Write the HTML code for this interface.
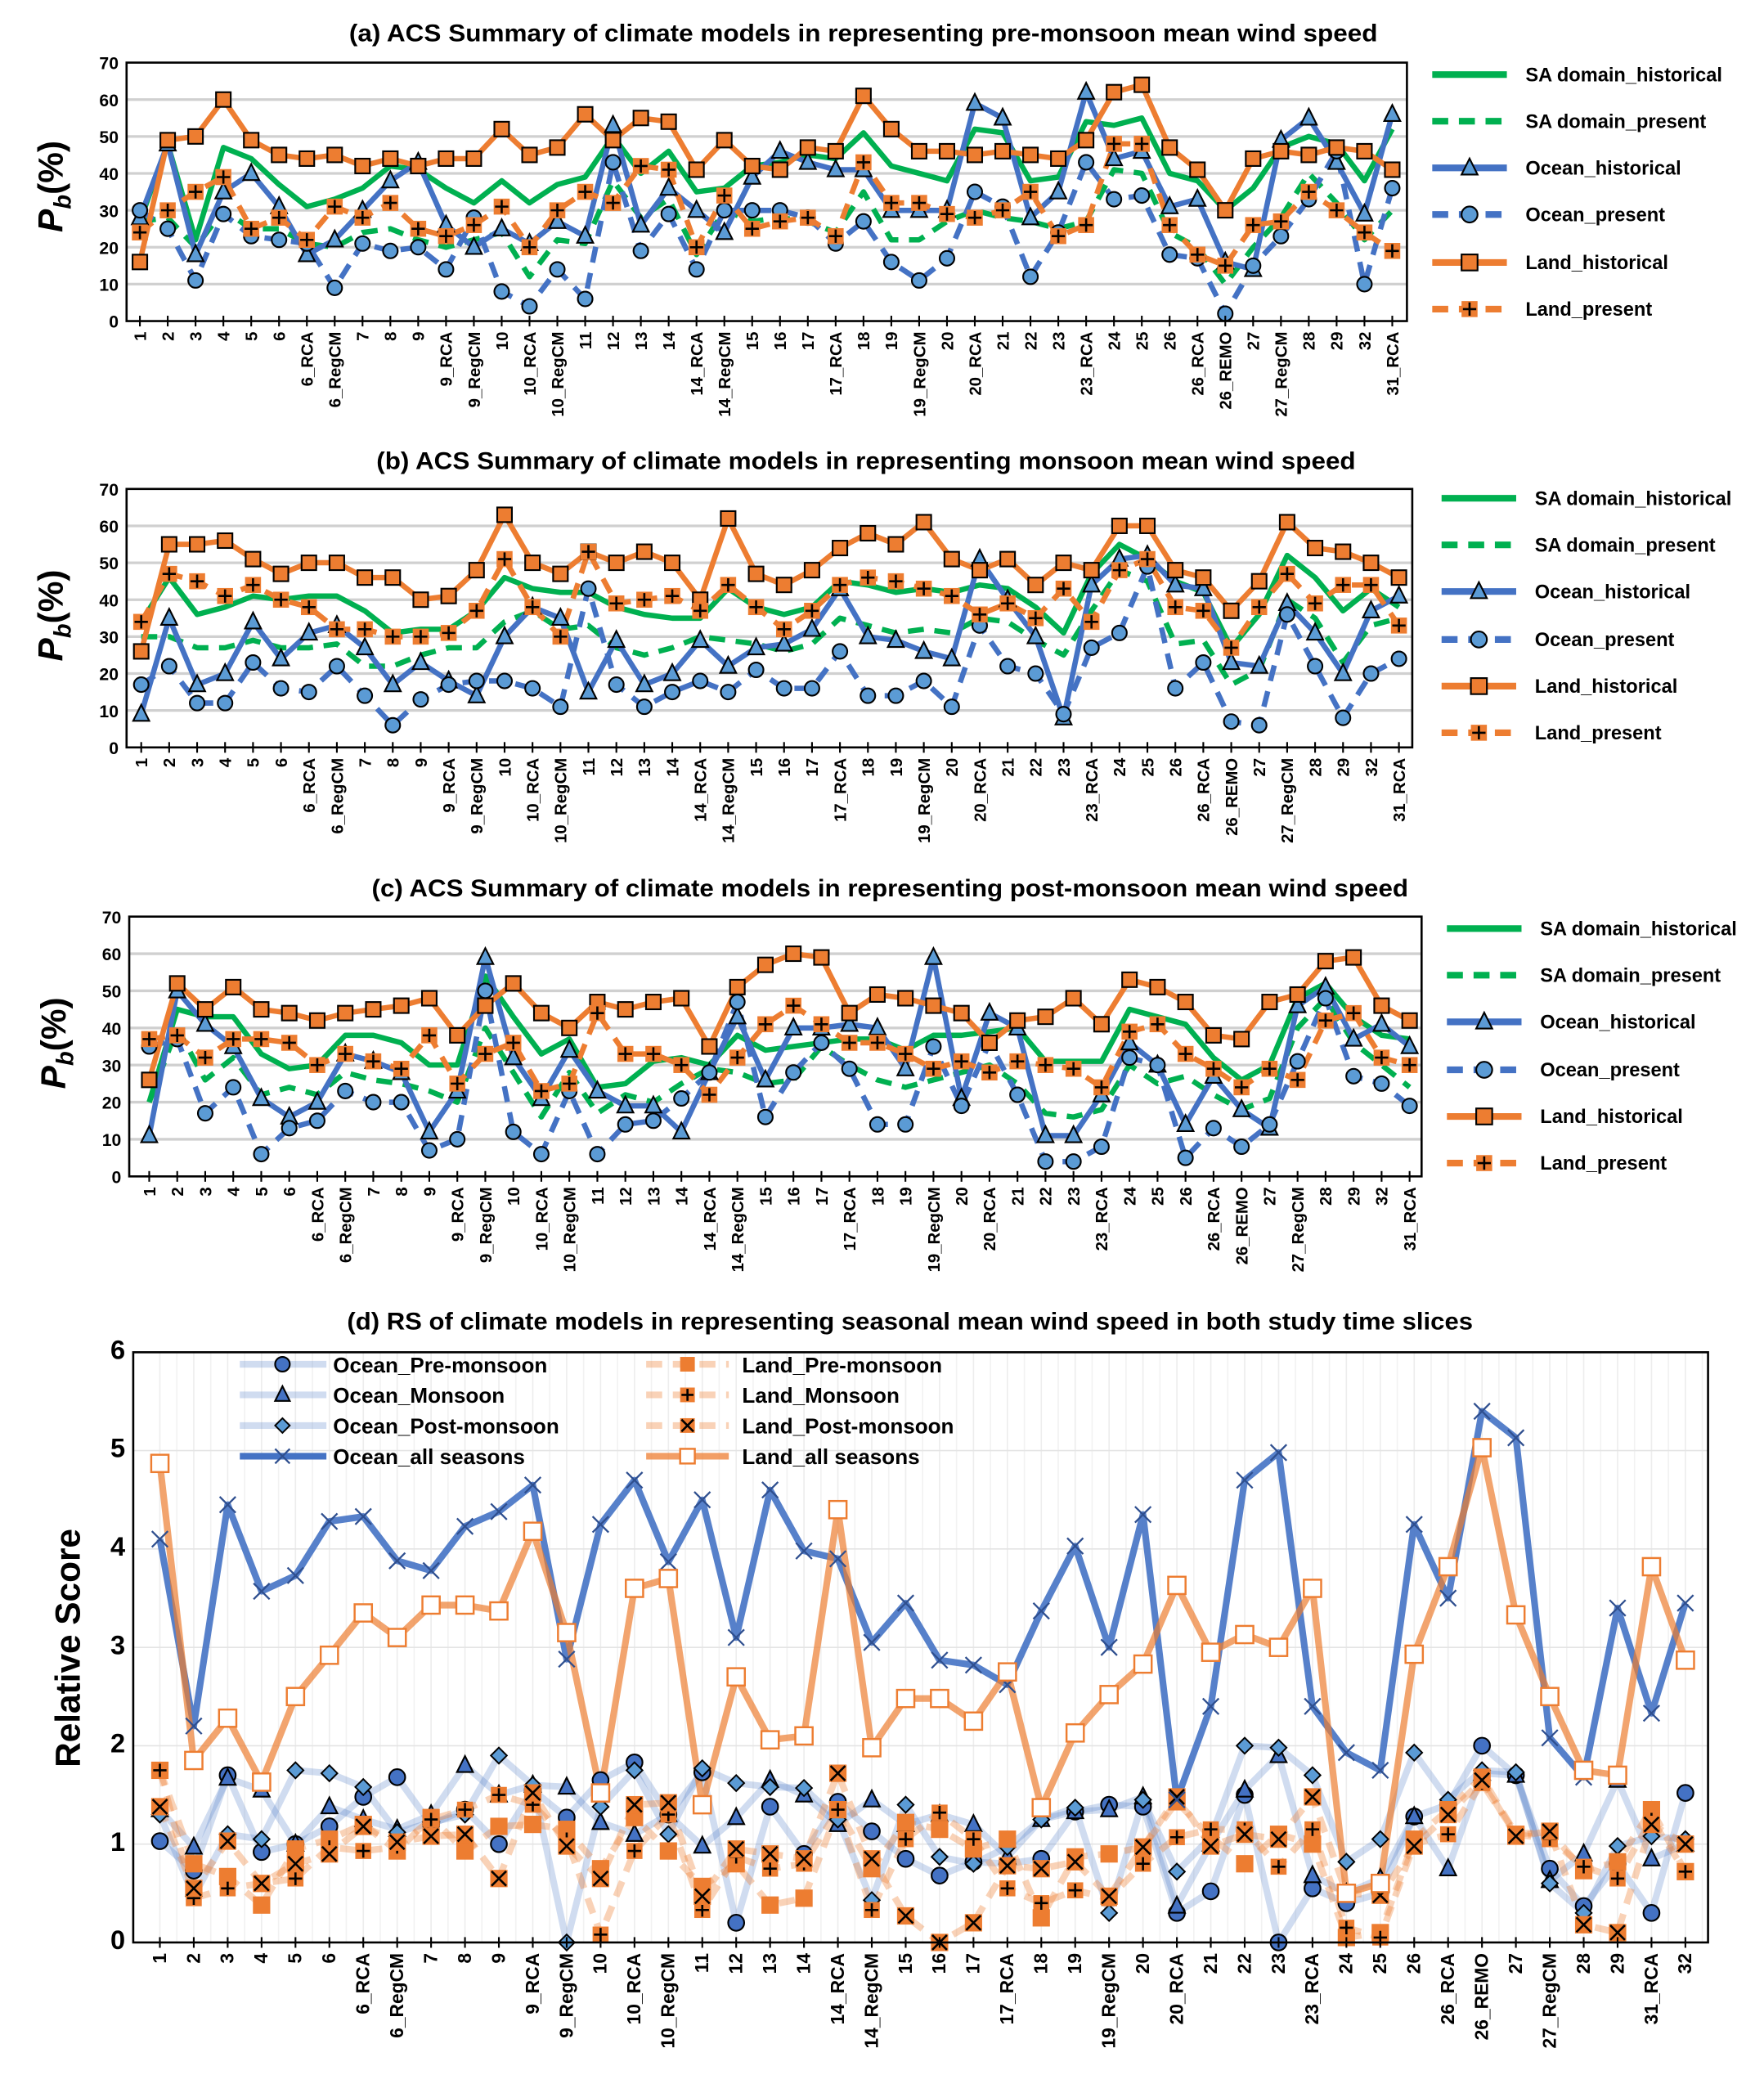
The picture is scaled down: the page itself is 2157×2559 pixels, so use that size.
<!DOCTYPE html>
<html><head><meta charset="utf-8">
<style>
html,body{margin:0;padding:0;background:#fff;}
svg{display:block;}
text{font-family:"Liberation Sans",sans-serif;}
</style></head>
<body>
<svg id="s" xmlns="http://www.w3.org/2000/svg" width="2157" height="2559" viewBox="0 0 1324 1571" preserveAspectRatio="none"></svg>
<script>
const S=document.getElementById('s');let H='';
const G='#00B050',B='#4472C4',LB='#5B9BD5',O='#ED7D31';
const catA=["1","2","3","4","5","6","6_RCA","6_RegCM","7","8","9","9_RCA","9_RegCM","10","10_RCA","10_RegCM","11","12","13","14","14_RCA","14_RegCM","15","16","17","17_RCA","18","19","19_RegCM","20","20_RCA","21","22","23","23_RCA","24","25","26","26_RCA","26_REMO","27","27_RegCM","28","29","32","31_RCA"];
const catD=catA.slice(0,44).concat(["31_RCA","32"]);
function mk(t,x,y,s){s=s||5;
 if(t=='tri')return `<polygon points="${x},${y-s-1} ${x-s},${y+s-1} ${x+s},${y+s-1}" fill="${LB}" stroke="#000" stroke-width="1.3"/>`;
 if(t=='cir')return `<circle cx="${x}" cy="${y}" r="${s}" fill="${LB}" stroke="#000" stroke-width="1.3"/>`;
 if(t=='cirD')return `<circle cx="${x}" cy="${y}" r="${s}" fill="${B}" stroke="#000" stroke-width="1.3"/>`;
 if(t=='triD')return `<polygon points="${x},${y-s-1} ${x-s},${y+s-1} ${x+s},${y+s-1}" fill="${B}" stroke="#000" stroke-width="1.3"/>`;
 if(t=='sq')return `<rect x="${x-s}" y="${y-s}" width="${2*s}" height="${2*s}" fill="${O}" stroke="#000" stroke-width="1.3"/>`;
 if(t=='sqf')return `<rect x="${x-s}" y="${y-s}" width="${2*s}" height="${2*s}" fill="${O}"/>`;
 if(t=='plus')return `<rect x="${x-s}" y="${y-s}" width="${2*s}" height="${2*s}" fill="${O}"/><path d="M${x-s+1} ${y}H${x+s-1}M${x} ${y-s+1}V${y+s-1}" stroke="#000" stroke-width="1.6"/>`;
 if(t=='xo')return `<rect x="${x-s}" y="${y-s}" width="${2*s}" height="${2*s}" fill="${O}"/><path d="M${x-s+1} ${y-s+1}L${x+s-1} ${y+s-1}M${x+s-1} ${y-s+1}L${x-s+1} ${y+s-1}" stroke="#000" stroke-width="1.6"/>`;
 if(t=='dia')return `<polygon points="${x},${y-s} ${x+s},${y} ${x},${y+s} ${x-s},${y}" fill="${LB}" stroke="#000" stroke-width="1.2"/>`;
 if(t=='x')return `<path d="M${x-s} ${y-s}L${x+s} ${y+s}M${x+s} ${y-s}L${x-s} ${y+s}" stroke="#2F4F8F" stroke-width="1.4"/>`;
 if(t=='osq')return `<rect x="${x-s}" y="${y-s}" width="${2*s}" height="${2*s}" fill="#fff" stroke="${O}" stroke-width="1.5"/>`;
 return '';}
function panel(c){
 const {L,R,T,Bt,x0,x1,ymax,step,cats}=c;const n=cats.length;const dx=(x1-x0)/(n-1);
 const X=i=>x0+i*dx,Y=v=>Bt-(v/ymax)*(Bt-T);
 if(c.vgrid){for(let i=0;i<n;i++){H+=`<line x1="${X(i)}" y1="${T}" x2="${X(i)}" y2="${Bt}" stroke="#ededed" stroke-width="1"/>`;H+=`<line x1="${X(i)+dx/2}" y1="${T}" x2="${X(i)+dx/2}" y2="${Bt}" stroke="#f2f2f2" stroke-width="1"/>`;}}
 for(let v=step;v<ymax;v+=step)H+=`<line x1="${L}" y1="${Y(v)}" x2="${R}" y2="${Y(v)}" stroke="${c.vgrid?'#e4e4e4':'#d0d0d0'}" stroke-width="${c.vgrid?1:2}"/>`;
 for(let v=0;v<=ymax;v+=step)H+=`<text x="${L-6}" y="${Y(v)+5}" font-size="${c.yfs}" font-weight="bold" text-anchor="end">${v}</text>`;
 for(const s of c.series){const pts=s.d.map((v,i)=>X(i).toFixed(1)+','+Y(v).toFixed(1)).join(' ');
  H+=`<polyline points="${pts}" fill="none" stroke="${s.c}" stroke-width="${s.w}" stroke-linejoin="round" ${s.dash?`stroke-dasharray="${s.dash}"`:''} ${s.op?`stroke-opacity="${s.op}"`:''}/>`;}
 for(const s of c.series){if(s.m)s.d.forEach((v,i)=>H+=mk(s.m,X(i),Y(v),s.ms));}
 H+=`<rect x="${L}" y="${T}" width="${R-L}" height="${Bt-T}" fill="none" stroke="#000" stroke-width="1.6"/>`;
 for(let i=0;i<n;i++){H+=`<line x1="${X(i)}" y1="${Bt-4}" x2="${X(i)}" y2="${Bt+4}" stroke="#000" stroke-width="1.3"/>`;
  H+=`<text transform="translate(${X(i)+4.5},${Bt+8}) rotate(-90)" font-size="${c.xfs}" font-weight="bold" text-anchor="end">${cats[i]}</text>`;}
}
function title(t,y,x,w){H+=`<text x="${x}" y="${y}" font-size="18" font-weight="bold" text-anchor="middle" textLength="${w}" lengthAdjust="spacingAndGlyphs">${t}</text>`;}
function ylab(x,y){H+=`<text transform="translate(${x},${y}) rotate(-90)" font-family="Liberation Serif,serif" font-size="26" font-weight="bold" text-anchor="middle"><tspan font-style="italic">P</tspan><tspan font-style="italic" font-size="18" dy="6">b</tspan><tspan dy="-6">(%)</tspan></text>`;}
function legend(lx,tx,ys){const it=[[G,'',null,'SA domain_historical'],[G,'12,8',null,'SA domain_present'],[B,'','tri','Ocean_historical'],[B,'12,8','cir','Ocean_present'],[O,'','sq','Land_historical'],[O,'12,8','plus','Land_present']];
 it.forEach((e,i)=>{const y=ys[i];H+=`<line x1="${lx}" y1="${y}" x2="${lx+56}" y2="${y}" stroke="${e[0]}" stroke-width="5" ${e[1]?`stroke-dasharray="12,8"`:''}/>`;if(e[2])H+=mk(e[2],lx+28,y,6);
 H+=`<text x="${tx}" y="${y+5}" font-size="14.5" font-weight="bold">${e[3]}</text>`;});}
function abc(d){return [{d:d[0],c:G,w:4},{d:d[1],c:G,w:4,dash:'12,8'},{d:d[2],c:B,w:4,m:'tri',ms:6},{d:d[3],c:B,w:4,dash:'12,8',m:'cir',ms:5.5},{d:d[4],c:O,w:4,m:'sq',ms:5.5},{d:d[5],c:O,w:4,dash:'12,8',m:'plus',ms:6}];}
const A=[
[27,48,22,47,44,37,31,33,36,42,41,36,32,38,32,37,39,50,40,46,35,36,42,43,45,44,51,42,40,38,52,51,38,39,54,53,55,40,38,30,36,47,50,48,38,52],
[27,28,20,30,25,25,21,20,24,25,22,20,22,24,12,22,21,38,28,33,18,30,27,28,27,24,35,22,22,27,30,28,27,25,27,41,40,24,20,10,20,28,40,32,22,30],
[28,48,18,35,40,31,18,22,30,38,43,26,20,25,21,27,23,53,26,36,30,24,39,46,43,41,41,30,30,30,59,55,28,35,62,44,46,31,33,16,14,49,55,43,29,56],
[30,25,11,29,23,22,21,9,21,19,20,14,28,8,4,14,6,43,19,29,14,30,30,30,28,21,27,16,11,17,35,31,12,24,43,33,34,18,17,2,15,23,33,46,10,36],
[16,49,50,60,49,45,44,45,42,44,42,44,44,52,45,47,56,49,55,54,41,49,42,41,47,46,61,52,46,46,45,46,45,44,49,62,64,47,41,30,44,46,45,47,46,41],
[24,30,35,39,25,28,22,31,28,32,25,23,26,31,20,30,35,32,42,41,20,34,25,27,28,23,43,32,32,29,28,30,35,23,26,48,48,26,18,15,26,27,35,30,24,19]];
const Bd=[
[34,46,36,38,41,40,41,41,37,31,32,32,37,46,43,42,42,38,36,35,35,43,38,36,38,45,44,42,43,42,44,43,38,31,47,55,51,45,42,27,36,52,46,37,43,38],
[30,30,27,27,29,27,27,28,22,22,25,27,27,34,37,32,33,27,25,27,30,29,28,26,28,35,33,31,32,31,35,34,29,25,37,48,45,28,29,17,21,40,35,23,33,35],
[9,35,17,20,34,24,31,33,27,17,23,18,14,30,38,35,15,29,17,20,29,22,27,28,32,43,30,29,26,24,51,40,30,8,44,51,52,44,43,23,22,39,31,20,37,41],
[17,22,12,12,23,16,15,22,14,6,13,17,18,18,16,11,43,17,11,15,18,15,21,16,16,26,14,14,18,11,33,22,20,9,27,31,49,16,23,7,6,36,22,8,20,24],
[26,55,55,56,51,47,50,50,46,46,40,41,48,63,50,47,53,50,53,50,40,62,47,44,48,54,58,55,61,51,48,51,44,50,48,60,60,48,46,37,45,61,54,53,50,46],
[34,47,45,41,44,40,38,32,32,30,30,31,37,51,38,30,53,39,40,41,37,44,38,32,37,44,46,45,43,41,36,39,35,43,34,48,51,38,37,27,38,47,39,44,44,33]];
const C=[
[20,45,43,43,33,29,30,38,38,36,30,30,54,43,33,37,24,25,31,32,30,38,34,35,36,37,37,34,38,38,39,40,31,31,31,45,43,41,32,26,30,48,52,43,38,37],
[20,40,26,32,22,24,22,28,26,25,23,20,40,28,16,28,17,22,20,25,29,28,25,26,35,30,26,24,26,28,30,25,17,16,18,30,25,27,22,18,21,40,48,36,30,24],
[11,50,41,35,21,16,20,33,31,28,12,23,59,32,21,34,23,19,19,12,28,43,26,40,40,41,40,29,59,21,44,40,11,11,22,36,30,14,27,18,13,46,51,37,41,35],
[35,37,17,24,6,13,15,23,20,20,7,10,50,12,6,23,6,14,15,21,28,47,16,28,36,29,14,14,35,19,36,22,4,4,8,32,30,5,13,8,14,31,48,27,25,19],
[26,52,45,51,45,44,42,44,45,46,48,38,46,52,44,40,47,45,47,48,35,51,57,60,59,44,49,48,46,44,36,42,43,48,41,53,51,47,38,37,47,49,58,59,46,42],
[37,38,32,37,37,36,30,33,31,29,38,25,33,36,23,25,44,33,33,30,22,32,41,46,41,36,36,33,29,31,28,31,30,29,24,39,41,33,29,24,29,26,42,44,32,30]];
title('(a) ACS Summary of  climate models in representing pre-monsoon mean wind speed',31,648,772);
panel({L:95,R:1056,T:47,Bt:241,x0:105,x1:1045,ymax:70,step:10,cats:catA,yfs:13,xfs:12.5,series:abc(A)});
ylab(47,140);legend(1075,1145,[56,91,126,161,197,232]);
title('(b) ACS Summary of  climate models in representing monsoon mean wind speed',352,650,735);
panel({L:95,R:1060,T:367,Bt:561,x0:106,x1:1050,ymax:70,step:10,cats:catA,yfs:13,xfs:12.5,series:abc(Bd)});
ylab(47,462);legend(1082,1152,[374,409,444,480,515,550]);
title('(c) ACS Summary of  climate models in representing post-monsoon mean wind speed',673,668,778);
panel({L:97,R:1067,T:688,Bt:883,x0:112,x1:1058,ymax:70,step:10,cats:catA,yfs:13,xfs:12.5,series:abc(C)});
ylab(49,783);legend(1086,1156,[697,732,767,803,838,873]);
const D={
oa:[4.1,2.2,4.45,3.57,3.73,4.28,4.33,3.88,3.78,4.23,4.38,4.65,2.88,4.25,4.7,3.87,4.5,3.1,4.6,3.98,3.9,3.05,3.45,2.87,2.82,2.62,3.37,4.03,3.0,4.35,1.45,2.4,4.7,4.98,2.4,1.93,1.75,4.25,3.5,5.4,5.13,2.08,1.68,3.4,2.33,3.45],
la:[4.87,1.85,2.28,1.63,2.5,2.92,3.35,3.1,3.43,3.43,3.37,4.18,3.15,1.52,3.6,3.7,1.4,2.7,2.06,2.1,4.4,1.98,2.48,2.48,2.25,2.75,1.37,2.13,2.52,2.83,3.63,2.95,3.13,3.0,3.6,0.5,0.6,2.93,3.82,5.03,3.33,2.5,1.75,1.7,3.82,2.87],
op:[1.03,0.73,1.7,0.92,1.0,1.18,1.48,1.68,1.2,1.35,1.0,1.55,1.27,1.65,1.83,1.3,1.73,0.2,1.38,0.9,1.43,1.13,0.85,0.68,0.82,0.8,0.85,1.33,1.4,1.38,0.3,0.52,1.5,0,0.55,0.4,0.5,1.28,1.4,2.0,1.7,0.75,0.37,0.8,0.3,1.52],
om:[1.35,0.97,1.67,1.55,1.0,1.38,1.25,1.15,1.3,1.8,1.5,1.6,1.58,1.22,1.1,1.3,0.98,1.27,1.65,1.5,1.2,1.45,1.2,1.3,1.2,0.87,1.25,1.33,1.35,1.48,0.37,1.0,1.55,1.9,0.68,0.5,0.65,1.28,0.75,1.72,1.7,0.63,0.9,1.65,0.85,1.0],
opo:[1.3,0.47,1.1,1.05,1.75,1.72,1.58,1.12,1.22,1.3,1.9,1.6,0,1.38,1.75,1.1,1.77,1.62,1.58,1.57,1.25,0.43,1.4,0.87,0.8,0.97,1.25,1.37,0.3,1.45,0.72,1.07,2.0,1.98,1.7,0.82,1.05,1.93,1.45,1.75,1.73,0.6,0.3,0.98,1.08,1.05],
lp:[1.75,0.8,0.67,0.38,0.95,1.05,1.2,0.93,1.27,0.93,1.18,1.2,1.15,0.75,1.27,0.93,0.57,0.8,0.38,0.45,1.35,0.75,1.22,1.15,0.95,1.05,0.25,0.87,0.9,0.97,1.43,1.07,0.8,1.1,1.0,0.05,0.1,1.05,1.35,1.68,1.1,1.13,0.73,0.82,1.35,0.72],
lm:[1.75,0.45,0.55,0.6,0.65,0.97,0.93,0.97,1.25,1.35,1.5,1.4,1.05,0.08,0.93,1.3,0.33,0.87,0.75,0.8,1.35,0.33,1.05,1.32,1.05,0.55,0.4,0.53,0.45,0.8,1.07,1.15,1.15,0.77,1.15,0.15,0.05,1.0,1.1,1.62,1.1,1.05,0.77,0.65,1.25,0.72],
lpo:[1.38,0.55,1.03,0.6,0.8,0.9,1.18,1.02,1.08,1.1,0.65,1.52,0.98,0.65,1.4,1.42,0.47,0.95,0.9,0.85,1.72,0.85,0.27,0.0,0.2,0.78,0.75,0.82,0.47,0.97,1.48,0.98,1.1,1.05,1.48,0.5,0.48,0.98,1.3,1.65,1.08,1.13,0.18,0.1,1.2,1.0]};
title('(d) RS of climate models in representing seasonal mean wind speed in both study time slices',998,683,845);
const LO='rgba(237,125,49,0.35)',LBl='rgba(68,114,196,0.25)';
panel({L:100,R:1282,T:1015,Bt:1458,x0:120,x1:1265,ymax:6,step:1,cats:catD,yfs:20,xfs:14,vgrid:true,series:[
{d:D.op,c:LBl,w:5,m:'cirD',ms:6},{d:D.om,c:LBl,w:5,m:'triD',ms:6},{d:D.opo,c:LBl,w:5,m:'dia',ms:6},
{d:D.lp,c:LO,w:5,dash:'12,8',m:'sqf',ms:6.5},{d:D.lm,c:LO,w:5,dash:'12,8',m:'plus',ms:6},{d:D.lpo,c:LO,w:5,dash:'12,8',m:'xo',ms:6.5},
{d:D.oa,c:B,w:5,op:0.9,m:'x',ms:6},{d:D.la,c:O,w:5,op:0.7,m:'osq',ms:6.5}]});
H+=`<text transform="translate(60,1237) rotate(-90)" font-size="26" font-weight="bold" text-anchor="middle">Relative Score</text>`;
[['Ocean_Pre-monsoon','cirD',LBl],['Ocean_Monsoon','triD',LBl],['Ocean_Post-monsoon','dia',LBl],['Ocean_all seasons','x',B]].forEach((e,i)=>{const y=1024+i*23;
 H+=`<line x1="180" y1="${y}" x2="245" y2="${y}" stroke="${e[2]}" stroke-width="5"/>`+mk(e[1],212,y,5.5)+`<text x="250" y="${y+6}" font-size="16" font-weight="bold">${e[0]}</text>`;});
[['Land_Pre-monsoon','sqf'],['Land_Monsoon','plus'],['Land_Post-monsoon','xo'],['Land_all seasons','osq']].forEach((e,i)=>{const y=1024+i*23;
 H+=`<line x1="485" y1="${y}" x2="547" y2="${y}" stroke="${i==3?'rgba(237,125,49,0.75)':LO}" stroke-width="5" ${i<3?'stroke-dasharray="12,8"':''}/>`+mk(e[1],516,y,5.5)+`<text x="557" y="${y+6}" font-size="16" font-weight="bold">${e[0]}</text>`;});
S.innerHTML=H;
</script>
</body></html>
